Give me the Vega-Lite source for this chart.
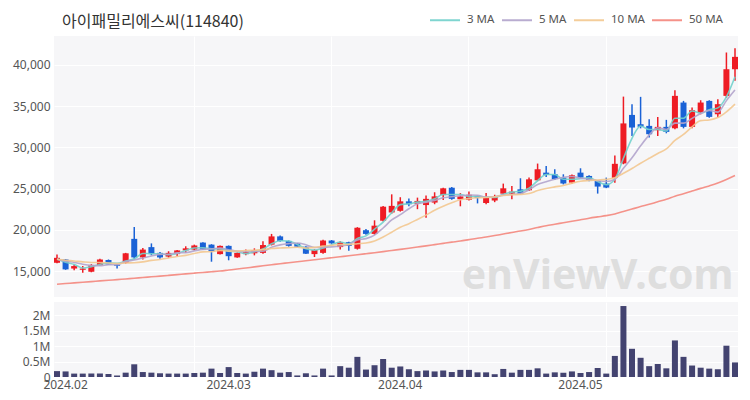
{
  "$schema": "https://vega.github.io/schema/vega-lite/v6.json",
  "padding": {"left": 12, "top": 4, "right": 10, "bottom": 4},
  "background": "white",
  "config": {
    "font": "Noto Sans",
    "view": {"stroke": null, "fill": "#f6f6f8"},
    "axis": {"labelColor": "#555555", "labelFontSize": 12, "domain": false, "ticks": false, "gridColor": "#ffffff", "gridWidth": 1, "title": null, "labelOverlap": false},
    "concat": {"spacing": 4}
  },
  "title": {"text": "아이패밀리에스씨(114840)", "anchor": "start", "frame": "group", "font": "Noto Sans CJK KR", "fontSize": 16, "fontWeight": "normal", "color": "#333333", "offset": -26, "dx": 8},
  "datasets": {
    "d": [
      {"date":"2024-01-31","open":16000,"high":17000,"low":15950,"close":16600,"volume":190000,"ma3":16467,"ma5":16440,"ma10":16420,"ma50":13400},
      {"date":"2024-02-01","open":16400,"high":16450,"low":15150,"close":15200,"volume":180000,"ma3":16067,"ma5":16200,"ma10":16300,"ma50":13480},
      {"date":"2024-02-02","open":15300,"high":15800,"low":15100,"close":15600,"volume":110000,"ma3":15800,"ma5":16040,"ma10":16220,"ma50":13560},
      {"date":"2024-02-05","open":15150,"high":15600,"low":14800,"close":15300,"volume":110000,"ma3":15367,"ma5":15820,"ma10":16110,"ma50":13640},
      {"date":"2024-02-06","open":14900,"high":15850,"low":14850,"close":15700,"volume":110000,"ma3":15533,"ma5":15680,"ma10":16040,"ma50":13720},
      {"date":"2024-02-07","open":15700,"high":16500,"low":15650,"close":16400,"volume":110000,"ma3":15800,"ma5":15640,"ma10":16040,"ma50":13800},
      {"date":"2024-02-08","open":16350,"high":16400,"low":15750,"close":15800,"volume":100000,"ma3":15967,"ma5":15760,"ma10":15980,"ma50":13880},
      {"date":"2024-02-13","open":15800,"high":15850,"low":15300,"close":15650,"volume":50000,"ma3":15950,"ma5":15770,"ma10":15905,"ma50":13960},
      {"date":"2024-02-14","open":16000,"high":17200,"low":15900,"close":17150,"volume":140000,"ma3":16200,"ma5":16140,"ma10":15980,"ma50":14040},
      {"date":"2024-02-15","open":18900,"high":20350,"low":16400,"close":16650,"volume":410000,"ma3":16483,"ma5":16330,"ma10":16005,"ma50":14130},
      {"date":"2024-02-16","open":16650,"high":17800,"low":16400,"close":17600,"volume":160000,"ma3":17133,"ma5":16570,"ma10":16105,"ma50":14210},
      {"date":"2024-02-19","open":17900,"high":18350,"low":16900,"close":17050,"volume":140000,"ma3":17100,"ma5":16820,"ma10":16290,"ma50":14300},
      {"date":"2024-02-20","open":17200,"high":17300,"low":16500,"close":16650,"volume":120000,"ma3":17100,"ma5":17020,"ma10":16395,"ma50":14380},
      {"date":"2024-02-21","open":16750,"high":17400,"low":16600,"close":17200,"volume":110000,"ma3":16967,"ma5":17030,"ma10":16585,"ma50":14470},
      {"date":"2024-02-22","open":17050,"high":17550,"low":16800,"close":17500,"volume":110000,"ma3":17117,"ma5":17200,"ma10":16765,"ma50":14560},
      {"date":"2024-02-23","open":17500,"high":18000,"low":17200,"close":17750,"volume":110000,"ma3":17483,"ma5":17230,"ma10":16900,"ma50":14650},
      {"date":"2024-02-26","open":17600,"high":18200,"low":17500,"close":18100,"volume":130000,"ma3":17783,"ma5":17440,"ma10":17130,"ma50":14740},
      {"date":"2024-02-27","open":18450,"high":18500,"low":17550,"close":17600,"volume":140000,"ma3":17817,"ma5":17630,"ma10":17325,"ma50":14830},
      {"date":"2024-02-28","open":18200,"high":18250,"low":16130,"close":17400,"volume":270000,"ma3":17700,"ma5":17670,"ma10":17350,"ma50":14910},
      {"date":"2024-02-29","open":17050,"high":18100,"low":17000,"close":18050,"volume":130000,"ma3":17683,"ma5":17780,"ma10":17490,"ma50":15000},
      {"date":"2024-03-04","open":18050,"high":18100,"low":16300,"close":16800,"volume":320000,"ma3":17417,"ma5":17590,"ma10":17410,"ma50":15120},
      {"date":"2024-03-05","open":16650,"high":17250,"low":16600,"close":17200,"volume":130000,"ma3":17350,"ma5":17410,"ma10":17425,"ma50":15240},
      {"date":"2024-03-06","open":17050,"high":17600,"low":16900,"close":17300,"volume":110000,"ma3":17100,"ma5":17350,"ma10":17490,"ma50":15370},
      {"date":"2024-03-07","open":17150,"high":17750,"low":16900,"close":17550,"volume":170000,"ma3":17350,"ma5":17380,"ma10":17525,"ma50":15500},
      {"date":"2024-03-08","open":17200,"high":18600,"low":17100,"close":18150,"volume":270000,"ma3":17667,"ma5":17400,"ma10":17590,"ma50":15630},
      {"date":"2024-03-11","open":18200,"high":19500,"low":18100,"close":19200,"volume":220000,"ma3":18300,"ma5":17880,"ma10":17735,"ma50":15760},
      {"date":"2024-03-12","open":19200,"high":19300,"low":18550,"close":18650,"volume":140000,"ma3":18667,"ma5":18170,"ma10":17790,"ma50":15890},
      {"date":"2024-03-13","open":18650,"high":18700,"low":17950,"close":18050,"volume":160000,"ma3":18633,"ma5":18320,"ma10":17835,"ma50":16010},
      {"date":"2024-03-14","open":18350,"high":18400,"low":17900,"close":17950,"volume":50000,"ma3":18217,"ma5":18400,"ma10":17890,"ma50":16130},
      {"date":"2024-03-15","open":17950,"high":18000,"low":17050,"close":17100,"volume":120000,"ma3":17700,"ma5":18190,"ma10":17795,"ma50":16250},
      {"date":"2024-03-18","open":17050,"high":17650,"low":16700,"close":17550,"volume":50000,"ma3":17533,"ma5":17860,"ma10":17870,"ma50":16370},
      {"date":"2024-03-19","open":17200,"high":18800,"low":17100,"close":18700,"volume":270000,"ma3":17783,"ma5":17870,"ma10":18020,"ma50":16490},
      {"date":"2024-03-20","open":18700,"high":18750,"low":18300,"close":18350,"volume":50000,"ma3":18200,"ma5":17930,"ma10":18125,"ma50":16610},
      {"date":"2024-03-21","open":17900,"high":18600,"low":17600,"close":18500,"volume":350000,"ma3":18517,"ma5":18040,"ma10":18220,"ma50":16730},
      {"date":"2024-03-22","open":18500,"high":18550,"low":17450,"close":18050,"volume":300000,"ma3":18300,"ma5":18230,"ma10":18210,"ma50":16850},
      {"date":"2024-03-25","open":17700,"high":20320,"low":17600,"close":20250,"volume":650000,"ma3":18933,"ma5":18770,"ma10":18315,"ma50":16980},
      {"date":"2024-03-26","open":19950,"high":20100,"low":19400,"close":19500,"volume":240000,"ma3":19267,"ma5":18930,"ma10":18400,"ma50":17100},
      {"date":"2024-03-27","open":19500,"high":21150,"low":19400,"close":20500,"volume":380000,"ma3":20083,"ma5":19360,"ma10":18645,"ma50":17220},
      {"date":"2024-03-28","open":21100,"high":22900,"low":21000,"close":22800,"volume":580000,"ma3":20933,"ma5":20220,"ma10":19130,"ma50":17350},
      {"date":"2024-03-29","open":22100,"high":24300,"low":21950,"close":22900,"volume":300000,"ma3":22067,"ma5":21190,"ma10":19710,"ma50":17490},
      {"date":"2024-04-01","open":22300,"high":23950,"low":22200,"close":23450,"volume":340000,"ma3":23050,"ma5":21830,"ma10":20300,"ma50":17630},
      {"date":"2024-04-02","open":23450,"high":23800,"low":22850,"close":23100,"volume":250000,"ma3":23150,"ma5":22550,"ma10":20740,"ma50":17770},
      {"date":"2024-04-03","open":23150,"high":23900,"low":22500,"close":23500,"volume":190000,"ma3":23350,"ma5":23150,"ma10":21255,"ma50":17910},
      {"date":"2024-04-04","open":23000,"high":24150,"low":21450,"close":23750,"volume":210000,"ma3":23450,"ma5":23340,"ma10":21780,"ma50":18050},
      {"date":"2024-04-05","open":23300,"high":24550,"low":23100,"close":24050,"volume":180000,"ma3":23767,"ma5":23570,"ma10":22380,"ma50":18200},
      {"date":"2024-04-08","open":24200,"high":25100,"low":23600,"close":25030,"volume":210000,"ma3":24277,"ma5":23886,"ma10":22858,"ma50":18350},
      {"date":"2024-04-09","open":25100,"high":25200,"low":23650,"close":23750,"volume":160000,"ma3":24277,"ma5":24016,"ma10":23283,"ma50":18500},
      {"date":"2024-04-11","open":23700,"high":24450,"low":22850,"close":24050,"volume":230000,"ma3":24277,"ma5":24126,"ma10":23638,"ma50":18640},
      {"date":"2024-04-12","open":23650,"high":24650,"low":23550,"close":24250,"volume":230000,"ma3":24017,"ma5":24226,"ma10":23783,"ma50":18810},
      {"date":"2024-04-15","open":24100,"high":24150,"low":23200,"close":23850,"volume":150000,"ma3":24050,"ma5":24186,"ma10":23878,"ma50":18976},
      {"date":"2024-04-16","open":23250,"high":24450,"low":23100,"close":23850,"volume":150000,"ma3":23983,"ma5":23950,"ma10":23918,"ma50":19121},
      {"date":"2024-04-17","open":23550,"high":24250,"low":23350,"close":24050,"volume":90000,"ma3":23917,"ma5":24010,"ma10":24013,"ma50":19298},
      {"date":"2024-04-18","open":24380,"high":25600,"low":24300,"close":25030,"volume":260000,"ma3":24310,"ma5":24206,"ma10":24166,"ma50":19486},
      {"date":"2024-04-19","open":24380,"high":25320,"low":23700,"close":24630,"volume":140000,"ma3":24570,"ma5":24282,"ma10":24254,"ma50":19673},
      {"date":"2024-04-22","open":24910,"high":26250,"low":24300,"close":24380,"volume":230000,"ma3":24680,"ma5":24388,"ma10":24287,"ma50":19846},
      {"date":"2024-04-23","open":24790,"high":26330,"low":24700,"close":26120,"volume":230000,"ma3":25043,"ma5":24842,"ma10":24396,"ma50":20041},
      {"date":"2024-04-24","open":26000,"high":28030,"low":25900,"close":27340,"volume":280000,"ma3":25947,"ma5":25500,"ma10":24755,"ma50":20272},
      {"date":"2024-04-25","open":26930,"high":27740,"low":26400,"close":26650,"volume":110000,"ma3":26703,"ma5":25824,"ma10":25015,"ma50":20492},
      {"date":"2024-04-26","open":26730,"high":27340,"low":26050,"close":26150,"volume":150000,"ma3":26713,"ma5":26128,"ma10":25205,"ma50":20672},
      {"date":"2024-04-29","open":26330,"high":26730,"low":25500,"close":25600,"volume":140000,"ma3":26133,"ma5":26372,"ma10":25380,"ma50":20851},
      {"date":"2024-04-30","open":25720,"high":26700,"low":25550,"close":26610,"volume":180000,"ma3":26120,"ma5":26470,"ma10":25656,"ma50":21031},
      {"date":"2024-05-02","open":26930,"high":27460,"low":26250,"close":26330,"volume":130000,"ma3":26180,"ma5":26268,"ma10":25884,"ma50":21216},
      {"date":"2024-05-03","open":26530,"high":26600,"low":25900,"close":26000,"volume":160000,"ma3":26313,"ma5":26138,"ma10":25981,"ma50":21403},
      {"date":"2024-05-07","open":25920,"high":26000,"low":24390,"close":25240,"volume":290000,"ma3":25857,"ma5":25956,"ma10":26042,"ma50":21564},
      {"date":"2024-05-08","open":25600,"high":26330,"low":25050,"close":25120,"volume":110000,"ma3":25453,"ma5":25860,"ma10":26116,"ma50":21717},
      {"date":"2024-05-09","open":26300,"high":29000,"low":25700,"close":28000,"volume":680000,"ma3":26120,"ma5":26138,"ma10":26304,"ma50":21922},
      {"date":"2024-05-10","open":28050,"high":36150,"low":27950,"close":32900,"volume":2290000,"ma3":28673,"ma5":27452,"ma10":26860,"ma50":22218},
      {"date":"2024-05-13","open":33930,"high":35230,"low":31380,"close":32400,"volume":910000,"ma3":31100,"ma5":28732,"ma10":27435,"ma50":22514},
      {"date":"2024-05-14","open":32800,"high":36120,"low":32300,"close":32480,"volume":620000,"ma3":32593,"ma5":30180,"ma10":28068,"ma50":22815},
      {"date":"2024-05-16","open":32600,"high":33400,"low":31180,"close":31590,"volume":350000,"ma3":32157,"ma5":31474,"ma10":28667,"ma50":23086},
      {"date":"2024-05-17","open":32070,"high":33690,"low":31380,"close":32480,"volume":420000,"ma3":32183,"ma5":32370,"ma10":29254,"ma50":23400},
      {"date":"2024-05-20","open":32480,"high":33330,"low":31700,"close":31870,"volume":280000,"ma3":31980,"ma5":32164,"ma10":29808,"ma50":23693},
      {"date":"2024-05-21","open":32310,"high":36930,"low":32200,"close":36240,"volume":1180000,"ma3":33530,"ma5":32932,"ma10":30832,"ma50":24072},
      {"date":"2024-05-22","open":35430,"high":35630,"low":32300,"close":32480,"volume":650000,"ma3":33530,"ma5":32932,"ma10":31556,"ma50":24370},
      {"date":"2024-05-23","open":32480,"high":34820,"low":32300,"close":34500,"volume":370000,"ma3":34407,"ma5":33514,"ma10":32494,"ma50":24697},
      {"date":"2024-05-24","open":34210,"high":35710,"low":34000,"close":35430,"volume":300000,"ma3":34137,"ma5":34104,"ma10":33237,"ma50":25022},
      {"date":"2024-05-27","open":35630,"high":35700,"low":33600,"close":33690,"volume":270000,"ma3":34540,"ma5":34468,"ma10":33316,"ma50":25323},
      {"date":"2024-05-28","open":34010,"high":35830,"low":33610,"close":35230,"volume":250000,"ma3":34783,"ma5":34266,"ma10":33606,"ma50":25666},
      {"date":"2024-05-29","open":36240,"high":41500,"low":36000,"close":39470,"volume":1010000,"ma3":36130,"ma5":35664,"ma10":34305,"ma50":26097},
      {"date":"2024-05-30","open":39470,"high":42020,"low":38060,"close":40970,"volume":470000,"ma3":38557,"ma5":36958,"ma10":35243,"ma50":26574}
    ]
  },
  "data": {"name": "d"},
  "vconcat": [
    {
      "width": 684,
      "height": 261,
      "layer": [
        {
          "mark": {"type": "rule", "strokeWidth": 1.5},
          "encoding": {
            "x": {"field": "date", "type": "ordinal", "scale": {"type": "band", "paddingInner": 0.3, "paddingOuter": 0}, "axis": {"values": ["2024-02-26", "2024-03-20", "2024-04-12", "2024-05-08"], "labels": false, "grid": true, "bandPosition": 0.5}},
            "y": {"field": "low", "type": "quantitative", "scale": {"domain": [11850, 43500], "nice": false, "zero": false}, "axis": {"values": [15000, 20000, 25000, 30000, 35000, 40000], "labelExpr": "format(datum.value, ',')", "labelPadding": 4}},
            "y2": {"field": "high"},
            "color": {"condition": {"test": "datum.close >= datum.open", "value": "#ee1c24"}, "value": "#1a62d6"}
          }
        },
        {
          "mark": {"type": "bar"},
          "encoding": {
            "x": {"field": "date", "type": "ordinal"},
            "y": {"field": "open", "type": "quantitative"},
            "y2": {"field": "close"},
            "color": {"condition": {"test": "datum.close >= datum.open", "value": "#ee1c24"}, "value": "#1a62d6"}
          }
        },
        {
          "transform": [{"fold": ["ma3", "ma5", "ma10", "ma50"], "as": ["series", "ma"]}],
          "mark": {"type": "line", "strokeWidth": 1.6, "interpolate": "monotone", "opacity": 0.9},
          "encoding": {
            "x": {"field": "date", "type": "ordinal"},
            "y": {"field": "ma", "type": "quantitative"},
            "color": {
              "field": "series", "type": "nominal",
              "scale": {"domain": ["ma3", "ma5", "ma10", "ma50"], "range": ["#72d1cc", "#b2a4cc", "#f3c890", "#f4877d"]},
              "legend": {"orient": "none", "legendX": 375, "legendY": -32, "direction": "horizontal", "title": null, "symbolType": "stroke", "symbolSize": 900, "symbolStrokeWidth": 2, "labelFontSize": 11.5, "labelColor": "#555555", "columnPadding": 3, "labelOffset": 6,
                "labelExpr": "{'ma3': '3 MA', 'ma5': '5 MA', 'ma10': '10 MA', 'ma50': '50 MA'}[datum.label]"}
            }
          }
        },
        {
          "data": {"values": [{"label": "enViewV.com"}]},
          "mark": {"type": "text", "fontSize": 41, "fontWeight": "bold", "color": "#dedede", "align": "center", "baseline": "alphabetic", "font": "Noto Sans"},
          "encoding": {
            "x": {"datum": "2024-05-07", "type": "ordinal"},
            "y": {"datum": 12800, "type": "quantitative"},
            "text": {"field": "label"}
          }
        }
      ]
    },
    {
      "width": 684,
      "height": 75,
      "layer": [
        {
          "mark": {"type": "bar", "color": "#434370"},
          "encoding": {
            "x": {"field": "date", "type": "ordinal", "scale": {"type": "band", "paddingInner": 0.3, "paddingOuter": 0}, "axis": {"values": ["2024-02-01", "2024-03-04", "2024-04-01", "2024-05-02"], "labelExpr": "replace(slice(datum.value, 0, 7), '-', '.')", "labelAngle": 0, "grid": false, "labelPadding": 2, "bandPosition": 0.5}},
            "y": {"field": "volume", "type": "quantitative", "scale": {"domain": [0, 2420000], "nice": false}, "axis": {"values": [0, 500000, 1000000, 1500000, 2000000], "labelExpr": "datum.value == 0 ? '0' : format(datum.value / 1000000, '~g') + 'M'", "labelPadding": 4, "labelOverlap": false}}
          }
        },
        {
          "mark": {"type": "bar", "opacity": 0},
          "encoding": {
            "x": {"field": "date", "type": "ordinal", "axis": {"orient": "top", "values": ["2024-02-26", "2024-03-20", "2024-04-12", "2024-05-08"], "labels": false, "grid": true, "bandPosition": 0.5}},
            "y": {"field": "volume", "type": "quantitative", "axis": null}
          }
        }
      ],
      "resolve": {"axis": {"x": "independent", "y": "independent"}}
    }
  ]
}
